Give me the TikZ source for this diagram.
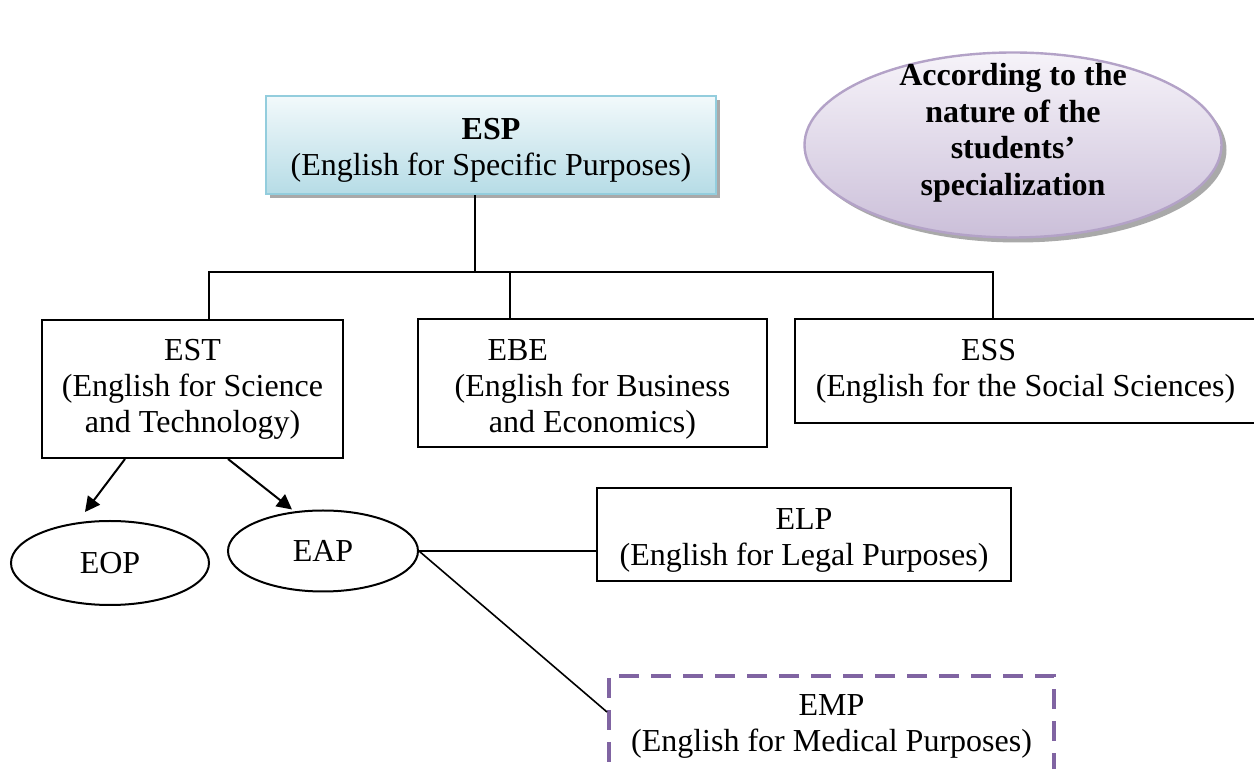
\documentclass[tikz,border=0pt]{standalone}
\usepackage{fontspec}
\setmainfont{Liberation Serif}
\usetikzlibrary{shapes.geometric,shadows,arrows.meta,calc}
\definecolor{espborder}{HTML}{93CDDD}
\definecolor{esptop}{HTML}{F2F9FB}
\definecolor{espbot}{HTML}{B6DCE6}
\definecolor{natborder}{HTML}{B3A2C7}
\definecolor{nattop}{HTML}{F6F3F9}
\definecolor{natbot}{HTML}{CBBFD9}
\definecolor{empcol}{HTML}{8064A2}
\definecolor{shadowcol}{HTML}{A9A9A9}
\tikzset{
  txt/.style={font=\fontsize{16pt}{18pt}\selectfont, align=center, inner sep=0pt},
  plainbox/.style={txt, rectangle, draw=black, line width=1pt},
  oval/.style={txt, ellipse, draw=black, line width=1pt},
  espbox/.style={txt, rectangle, draw=espborder, line width=1.2pt,
    top color=esptop, bottom color=espbot,
    drop shadow={shadow xshift=2pt, shadow yshift=-2pt, fill=shadowcol, opacity=1}},
  natoval/.style={ellipse, draw=natborder, line width=1.2pt,
    top color=nattop, bottom color=natbot,
    drop shadow={shadow xshift=2.5pt, shadow yshift=-2.5pt, fill=shadowcol, opacity=1}},
  empbox/.style={txt, rectangle, draw=empcol, line width=2pt, dash pattern=on 10pt off 6pt},
  conn/.style={draw=black, line width=1pt},
  thin/.style={draw=black, line width=0.8pt},
  arr/.style={draw=black, line width=1pt, -{Triangle[length=7.5pt,width=7.5pt]}}
}
\begin{document}
\begin{tikzpicture}[x=0.5pt, y=-0.5pt]
\useasboundingbox (0,0) rectangle (1254,769);

% top boxes
\node[espbox, minimum width=225pt, minimum height=49pt] (esp) at (491,145) {};
\node[txt] (esptext) at ($(esp.center)+(0,5)$)
  {{\bfseries ESP}\\(English for Specific Purposes)};
\node[natoval, minimum width=208.5pt, minimum height=92.5pt] (nat) at (1013,145) {};
\node[txt, font=\fontsize{16pt}{18.3pt}\selectfont\bfseries] (natlabel) at ($(nat.center)+(0,-12)$)
  {According to the\\nature of the\\students’\\specialization};

% second level
\node[plainbox, minimum width=150.5pt, minimum height=69pt] (est) at (192.5,389)
  {EST\\(English for Science\\and Technology)};
\node[plainbox, minimum width=174.5pt, minimum height=64pt] (ebe) at (592.5,383) {};
\node[txt] (ebetext) at ($(ebe.center)+(0,6)$)
  {\makebox[105pt][l]{EBE}\\(English for Business\\and Economics)};
\node[plainbox, minimum width=240pt, minimum height=52pt] (ess) at (1035,371) {};
\node[txt] (esstext) at (1025.5,371)
  {\makebox[64.5pt][l]{ESS}\\(English for the Social Sciences)};

% third level
\node[oval, minimum width=99pt, minimum height=42pt] (eop) at (110,563) {EOP};
\node[oval, minimum width=95pt, minimum height=40.5pt] (eap) at (323,551) {EAP};
\node[plainbox, minimum width=207pt, minimum height=46.5pt] (elp) at (804,534.5) {};
\node[txt] (elptext) at ($(elp.center)+(0,6)$)
  {ELP\\(English for Legal Purposes)};
\node[empbox, minimum width=222.5pt, minimum height=50pt] (emp) at (831.5,726)
  {EMP\\(English for Medical Purposes)};

% tree connectors
\coordinate (bus) at (475,272);
\coordinate (bl) at (209,272);
\coordinate (bm) at (510,272);
\coordinate (br) at (993,272);
\draw[conn] (esp.south -| bus) -- (bus);
\draw[conn] (bl |- est.north) -- (bl) -- (br) -- (br |- ess.north);
\draw[conn] (bm) -- (bm |- ebe.north);

% arrows
\draw[arr] ($(est.south west)+(84,0)$) -- ($(eop.north)+(-25,-8)$);
\draw[arr] ($(est.south west)+(187,0)$) -- ($(eap.north)+(-31,0)$);

% EAP links
\draw[thin] (eap.east) -- (eap.east -| elp.west);
\draw[thin] (eap.east) -- ($(emp.north west)+(0,38)$);
\end{tikzpicture}
\end{document}
